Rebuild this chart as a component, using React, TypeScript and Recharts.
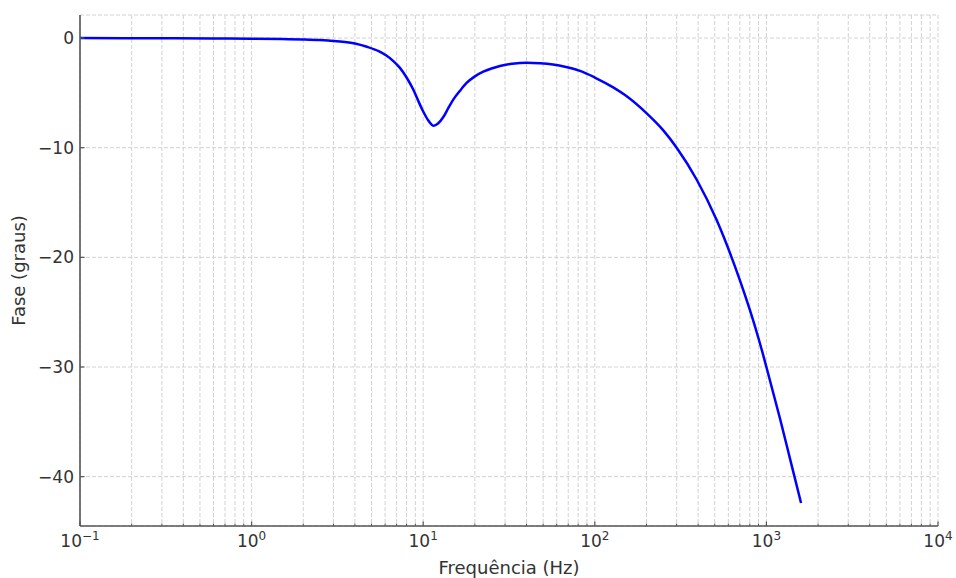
import React from 'react';
import { LineChart, Line, XAxis, YAxis, CartesianGrid } from 'recharts';

// Frequency (Hz) and phase (degrees)
const frequencies = [
  0.1, 0.3, 0.6, 1.0, 1.5, 2.0, 2.5, 3.0, 3.5, 4.0, 4.7, 5.5, 6.1, 6.7, 7.3, 8.0, 8.75, 9.4, 10,
  10.8, 11.5, 12.2, 13.1, 14, 15, 16.4, 17.9, 20, 22.4, 25, 28, 33, 40, 48, 57, 68, 82,
  100, 128, 150, 200, 250, 300, 392, 513, 627, 701, 801, 900, 1000, 1200, 1400, 1592,
];
const phases = [
  0, -0.02, -0.04, -0.07, -0.1, -0.14, -0.19, -0.26, -0.36, -0.5, -0.8, -1.2, -1.6, -2.1, -2.7, -3.6, -4.7, -5.8, -6.7,
  -7.6, -8.0, -7.8, -7.2, -6.4, -5.6, -4.8, -4.1, -3.5, -3.07, -2.78, -2.55, -2.35, -2.25, -2.3, -2.42, -2.65, -3.0,
  -3.6, -4.5, -5.2, -6.85, -8.4, -10.0, -12.9, -16.6, -20.0, -22.1, -24.8, -27.4, -30.0, -34.7, -38.9, -42.4,
];

const majorTicks = [0.1, 1, 10, 100, 1000, 10000];
const xTickBases = ['10', '10', '10', '10', '10', '10'];
const xTickExponents = ['−1', '0', '1', '2', '3', '4'];
const minorMultipliers = [2, 3, 4, 5, 6, 7, 8, 9];

const yTicks = [0, -10, -20, -30, -40];
const yTickLabels = ['0', '−10', '−20', '−30', '−40'];

const xLabel = 'Frequência (Hz)';
const yLabel = 'Fase (graus)';

const data = frequencies.map((f, i) => ({ f, phase: phases[i] }));
const minorTicks = majorTicks
  .slice(0, -1)
  .flatMap((d) => minorMultipliers.map((m) => Number((d * m).toPrecision(6))));
const allXTicks = [...majorTicks, ...minorTicks].sort((a, b) => a - b);

const FONT = '"DejaVu Sans", sans-serif';
const TEXT = '#333';
const SPINE = '#555';
const X_TICK_MARGIN = 0;
const Y_TICK_MARGIN = 6;

const XTick = (props: any) => {
  const { x, y, payload } = props;
  const idx = majorTicks.indexOf(payload.value);
  const axisY = y - X_TICK_MARGIN;
  if (idx < 0) {
    return <line x1={x} x2={x} y1={axisY} y2={axisY - 2.5} stroke={SPINE} strokeWidth={1} />;
  }
  return (
    <g>
      <line x1={x} x2={x} y1={axisY} y2={axisY - 4.5} stroke={SPINE} strokeWidth={1.2} />
      <text x={x} y={axisY + 21} textAnchor="middle" fill={TEXT} fontSize={17} fontFamily={FONT}>
        <tspan>{xTickBases[idx]}</tspan>
        <tspan dy={-7.5} fontSize={12}>{xTickExponents[idx]}</tspan>
      </text>
    </g>
  );
};

const YTick = (props: any) => {
  const { x, y, payload } = props;
  const idx = yTicks.indexOf(payload.value);
  const axisX = x + Y_TICK_MARGIN;
  return (
    <g>
      <line x1={axisX} x2={axisX + 4.5} y1={y} y2={y} stroke={SPINE} strokeWidth={1.2} />
      <text x={x} y={y} dy={6} textAnchor="end" fill={TEXT} fontSize={17} fontFamily={FONT}>
        {idx >= 0 ? yTickLabels[idx] : String(payload.value)}
      </text>
    </g>
  );
};

const XLabel = (props: any) => {
  const vb = props.viewBox || {};
  return (
    <text x={vb.x + vb.width / 2} y={vb.y + vb.height - 4} textAnchor="middle" fill={TEXT} fontSize={18} fontFamily={FONT}>
      {xLabel}
    </text>
  );
};

const YLabel = (props: any) => {
  const vb = props.viewBox || {};
  const cx = vb.x + 25;
  const cy = vb.y + vb.height / 2;
  return (
    <text x={cx} y={cy} textAnchor="middle" transform={`rotate(-90, ${cx}, ${cy})`} fill={TEXT} fontSize={18} fontFamily={FONT}>
      {yLabel}
    </text>
  );
};

export default function App() {
  return (
    <div style={{ position: 'absolute', left: 0, top: 0, background: '#fff' }}>
      <LineChart width={956} height={578} data={data} margin={{ top: 15, right: 18, left: 0, bottom: 0 }}>
        <CartesianGrid stroke="#d2d2d2" strokeDasharray="4 2" strokeWidth={1} />
        <XAxis
          dataKey="f"
          type="number"
          scale="log"
          domain={[0.1, 10000]}
          ticks={allXTicks}
          interval={0}
          allowDataOverflow
          height={52}
          tickSize={0}
          tickMargin={X_TICK_MARGIN}
          tickLine={false}
          axisLine={{ stroke: SPINE, strokeWidth: 1.6 }}
          tick={<XTick />}
          label={<XLabel />}
        />
        <YAxis
          type="number"
          domain={[-44.5, 2.1]}
          ticks={yTicks}
          interval={0}
          allowDataOverflow
          width={80}
          tickSize={0}
          tickMargin={Y_TICK_MARGIN}
          tickLine={false}
          axisLine={{ stroke: SPINE, strokeWidth: 1.6 }}
          tick={<YTick />}
          label={<YLabel />}
        />
        <Line
          type="monotone"
          dataKey="phase"
          stroke="#0000ff"
          strokeWidth={2.5}
          dot={false}
          isAnimationActive={false}
        />
      </LineChart>
    </div>
  );
}
